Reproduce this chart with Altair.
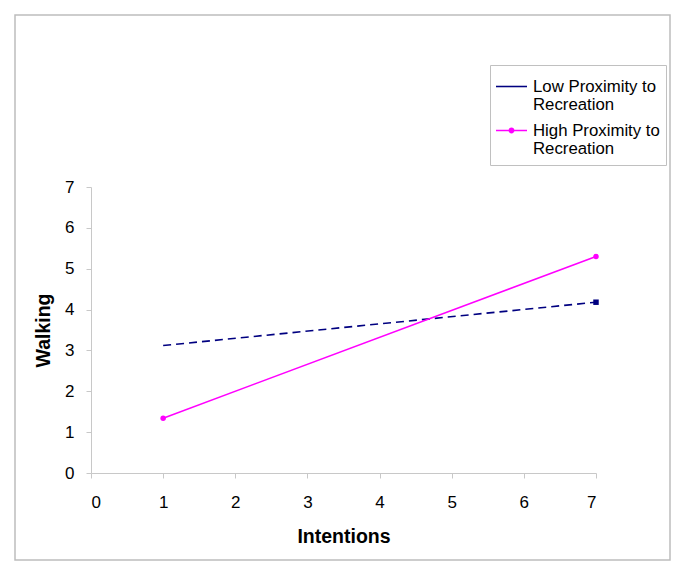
import altair as alt
import pandas as pd

series = ["Low Proximity to Recreation", "High Proximity to Recreation"]
colors = ["#000080", "#FF00FF"]
x_vals = [1, 7]
low_vals = [3.12, 4.18]
high_vals = [1.34, 5.30]
ticks = [0, 1, 2, 3, 4, 5, 6, 7]

rows = []
for xv, yv in zip(x_vals, low_vals):
    rows.append({"series": series[0], "x": xv, "y": yv})
for xv, yv in zip(x_vals, high_vals):
    rows.append({"series": series[1], "x": xv, "y": yv})
df = pd.DataFrame(rows)
low_df = df[df.series == series[0]]
high_df = df[df.series == series[1]]

FONT = "Liberation Sans"

# legend symbol glyphs: a plain line, and a line with a dot
sym_line = "M-1,-0.05H1V0.05H-1Z"
sym_dot = ("M-1,-0.05H1V0.05H-1Z "
           "M0.19,0A0.19,0.19,0,1,1,-0.19,0A0.19,0.19,0,1,1,0.19,0Z")

xscale = alt.Scale(domain=[0, 7], nice=False)
yscale = alt.Scale(domain=[0, 7], nice=False)
xaxis = alt.Axis(values=ticks, format="d", title="Intentions", grid=False,
                 tickSize=5, labelPadding=16, titlePadding=17,
                 labelFontSize=17, titleFontSize=19.5, titleFontWeight="bold",
                 labelFont=FONT, titleFont=FONT, domainColor="#c8c8c8",
                 tickColor="#c8c8c8", labelColor="#000", titleColor="#000")
yaxis = alt.Axis(values=ticks, format="d", title="Walking", grid=False,
                 tickSize=5, labelPadding=12, titlePadding=11,
                 labelFontSize=17, titleFontSize=19.5, titleFontWeight="bold",
                 labelFont=FONT, titleFont=FONT, domainColor="#c8c8c8",
                 tickColor="#c8c8c8", labelColor="#000", titleColor="#000")

legend = alt.Legend(title=None, orient="none", legendX=399, legendY=-122,
                    strokeColor="#c0c0c0", fillColor="white", padding=6,
                    symbolSize=961, symbolStrokeWidth=0,
                    labelFontSize=16.8, labelFont=FONT, labelColor="#000",
                    rowPadding=0, labelOffset=6, labelLimit=300,
                    labelExpr="[slice(datum.label, 0, indexof(datum.label, ' Recreation')), 'Recreation']")

frame = alt.Chart(pd.DataFrame({"a": [0]})).mark_rect(
    fill=None, stroke="#bdbdbd", strokeWidth=1.5, clip=False
).encode(x=alt.value(-76), x2=alt.value(579), y=alt.value(-172), y2=alt.value(373))

low_line = alt.Chart(low_df).mark_line(strokeDash=[8, 5], strokeWidth=1.6, color=colors[0]).encode(
    x=alt.X("x:Q", scale=xscale, axis=xaxis),
    y=alt.Y("y:Q", scale=yscale, axis=yaxis),
)
high_line = alt.Chart(high_df).mark_line(strokeWidth=1.5, color=colors[1]).encode(
    x=alt.X("x:Q", scale=xscale, axis=xaxis),
    y=alt.Y("y:Q", scale=yscale, axis=yaxis),
)
high_pts = alt.Chart(high_df).mark_point(shape="circle", filled=True, size=30, color=colors[1], opacity=1).encode(
    x=alt.X("x:Q", scale=xscale), y=alt.Y("y:Q", scale=yscale))
low_pts = alt.Chart(low_df[low_df.x == 7]).mark_point(shape="square", filled=True, size=30, color=colors[0], opacity=1).encode(
    x=alt.X("x:Q", scale=xscale), y=alt.Y("y:Q", scale=yscale))

legend_layer = alt.Chart(df).mark_point(filled=True, opacity=1, strokeWidth=0).encode(
    x=alt.X("x:Q", scale=xscale), y=alt.Y("y:Q", scale=yscale),
    color=alt.Color("series:N", scale=alt.Scale(domain=series, range=colors), legend=legend),
    shape=alt.Shape("series:N", scale=alt.Scale(domain=series, range=[sym_line, sym_dot]), legend=legend),
    size=alt.value(0),
)

chart = alt.layer(frame, low_line, high_line, high_pts, low_pts, legend_layer).properties(
    width=505, height=286,
    autosize=alt.AutoSizeParams(type="none"),
    padding={"left": 83, "top": 179, "right": 75, "bottom": 93},
).configure(background="white").configure_view(stroke=None)

chart.save("out.html", embed_options={"renderer": "svg", "actions": False})
